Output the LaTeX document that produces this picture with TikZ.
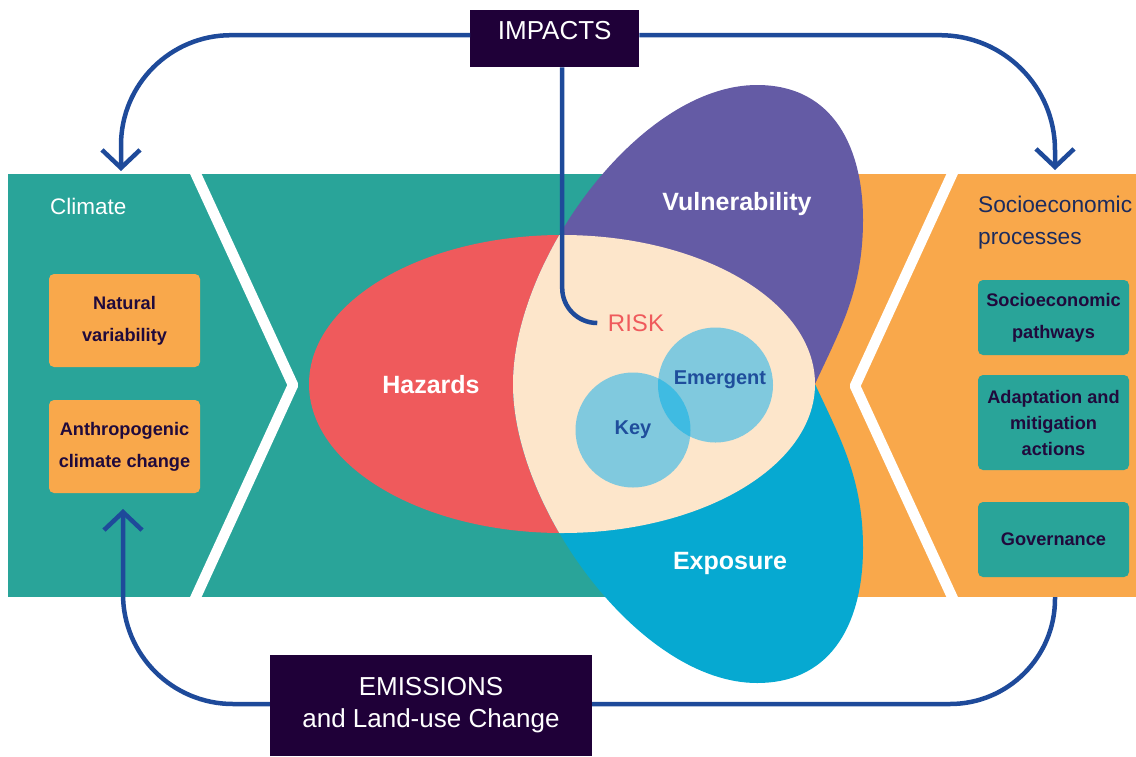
\documentclass[tikz,border=0pt]{standalone}
\usepackage{fontspec}
\setmainfont{Liberation Sans}
\usepackage{tikz}
\usetikzlibrary{arrows.meta}
\usepackage{xcolor}
\definecolor{Teal}{HTML}{29A499}
\definecolor{Amber}{HTML}{F9A84B}
\definecolor{HazardRed}{HTML}{EF5A5C}
\definecolor{VulnPurple}{HTML}{645BA5}
\definecolor{ExpBlue}{HTML}{06A9D1}
\definecolor{RiskCream}{HTML}{FDE6CB}
\definecolor{KeyBlue}{HTML}{80C9DE}
\definecolor{OverlapBlue}{HTML}{3FBBE2}
\definecolor{NightPurple}{HTML}{1F0038}
\definecolor{FlowBlue}{HTML}{1E4A9A}
\definecolor{InkNavy}{HTML}{1B2B5E}
\definecolor{InkDark}{HTML}{200A3C}
\definecolor{LabelBlue}{HTML}{1F4E9C}
\newcommand{\vulnpath}{(513,384) .. controls (513,260) and (640,85) .. (757,85)
  .. controls (835,85) and (863,150) .. (863,220)
  .. controls (863,290) and (840,330) .. (815,384) -- cycle}
\newcommand{\exppath}{(513,384) .. controls (513,508) and (640,683) .. (757,683)
  .. controls (835,683) and (863,618) .. (863,548)
  .. controls (863,478) and (840,438) .. (815,384) -- cycle}
\newcommand{\unionpath}{(513,384) .. controls (513,260) and (640,85) .. (757,85)
  .. controls (835,85) and (863,150) .. (863,220)
  .. controls (863,290) and (840,330) .. (815,384)
  .. controls (840,438) and (863,478) .. (863,548)
  .. controls (863,618) and (835,683) .. (757,683)
  .. controls (640,683) and (513,508) .. (513,384) -- cycle}
\tikzset{%
  chevron/.style={%
    draw=white,%
    line width=10.5pt,%
    line join=round%
  },
  factor/.style={%
    rectangle,%
    rounded corners=5pt,%
    minimum width=151pt,%
    inner sep=0pt,%
    align=center,%
    text=InkDark,%
    font={\fontsize{18.2}{32}\selectfont\bfseries}%
  },
  darkbox/.style={%
    rectangle,%
    fill=NightPurple,%
    text=white,%
    inner xsep=0pt,%
    align=center,%
    font={\fontsize{26}{32}\selectfont}%
  },
  shapelabel/.style={%
    inner sep=0pt,%
    text=white,%
    font={\fontsize{25}{28}\selectfont\bfseries}%
  },
  circlelabel/.style={%
    inner sep=0pt,%
    text=LabelBlue,%
    font={\fontsize{20}{24}\selectfont\bfseries}%
  },
  flow/.style={%
    draw=FlowBlue,%
    line width=4.5pt%
  },
  flowtip/.style={-{Straight Barb[length=18pt, width=38pt]}},
}

\begin{document}
\begin{tikzpicture}[x=1pt, y=-1pt]
  \useasboundingbox (0,0) rectangle (1136,756);

  % panels
  \fill[Teal] (8,174) rectangle (710,597);
  \fill[Amber] (710,174) rectangle (1136,597);
  \begin{scope}
    \clip (8,174) rectangle (1136,597);
    \draw[chevron] (194,170) -- (293,385) -- (194,601);
    \draw[chevron] (954,170) -- (855,386) -- (954,601);
  \end{scope}

  \node[anchor=west, inner sep=0pt, text=white,
    font={\fontsize{22.5}{25}\selectfont}] (Climate) at (50,206) {Climate};
  \node[factor, fill=Amber, minimum height=93pt] (Natural) at (124.5,320.5)
    {Natural\\variability};
  \node[factor, fill=Amber, minimum height=93pt] (Anthro) at (124.5,446.5)
    {Anthropogenic\\climate change};

  \node[anchor=west, inner sep=0pt, align=left, text=InkNavy,
    font={\fontsize{22.7}{32}\selectfont}] (Socio) at (978,223)
    {Socioeconomic\\processes};
  \node[factor, fill=Teal, minimum height=75pt] (Pathways) at (1053.5,317.5)
    {Socioeconomic\\pathways};
  \node[factor, fill=Teal, minimum height=95pt,
    font={\fontsize{18.2}{26}\selectfont\bfseries}] (Adapt) at (1053.5,422.5)
    {Adaptation and\\mitigation\\actions};
  \node[factor, fill=Teal, minimum height=75pt] (Gov) at (1053.5,539.5)
    {Governance};

  % risk propeller
  \fill[HazardRed] (562,384) ellipse [x radius=253, y radius=149];
  \fill[VulnPurple] \vulnpath;
  \fill[ExpBlue] \exppath;
  \begin{scope}
    \clip (562,384) ellipse [x radius=253, y radius=149];
    \fill[RiskCream] \unionpath;
  \end{scope}
  \fill[KeyBlue] (633,430) circle [radius=57.5];
  \fill[KeyBlue] (715.5,385) circle [radius=57.5];
  \begin{scope}
    \clip (633,430) circle [radius=57.5];
    \fill[OverlapBlue] (715.5,385) circle [radius=57.5];
  \end{scope}

  \node[shapelabel] (Hazards) at (431,385) {Hazards};
  \node[shapelabel] (Vuln) at (737,204) {Vulnerability};
  \node[shapelabel] (Exposure) at (730,563) {Exposure};
  \node[inner sep=0pt, text=HazardRed, font={\fontsize{24}{28}\selectfont}]
    (Risk) at (636,323) {RISK};
  \node[circlelabel] (Key) at (633,430) {Key};
  \node[circlelabel] (Emergent) at (720,380) {Emergent};

  % feedback loops
  \node[darkbox, minimum width=169pt, text height=19pt, text depth=18pt,
    inner ysep=10pt, anchor=north west] (Impacts) at (470,10) {IMPACTS};
  \node[darkbox, minimum width=322pt, minimum height=101pt]
    (Emissions) at (431,705.5) {EMISSIONS\\and Land-use Change};
  \coordinate (ClimateIn) at (121,171);
  \coordinate (SocioIn) at (1055,170);
  \coordinate (ClimateOut) at (123,509);
  \coordinate (SocioOut) at (1055,597);

  \draw[flow, flowtip, rounded corners=110pt]
    ([yshift=3.5pt]Impacts.west) -| (ClimateIn);
  \draw[flow, flowtip, rounded corners=115pt]
    ([yshift=3.5pt]Impacts.east) -| (SocioIn);
  \draw[flow, rounded corners=35pt]
    ([xshift=7.5pt]Impacts.south) |- ([xshift=-11pt]Risk.west);
  \draw[flow, flowtip, rounded corners=110pt]
    ([yshift=1.5pt]Emissions.west) -| (ClimateOut);
  \draw[flow, rounded corners=105pt]
    ([yshift=1.5pt]Emissions.east) -| (SocioOut);
\end{tikzpicture}
\end{document}
